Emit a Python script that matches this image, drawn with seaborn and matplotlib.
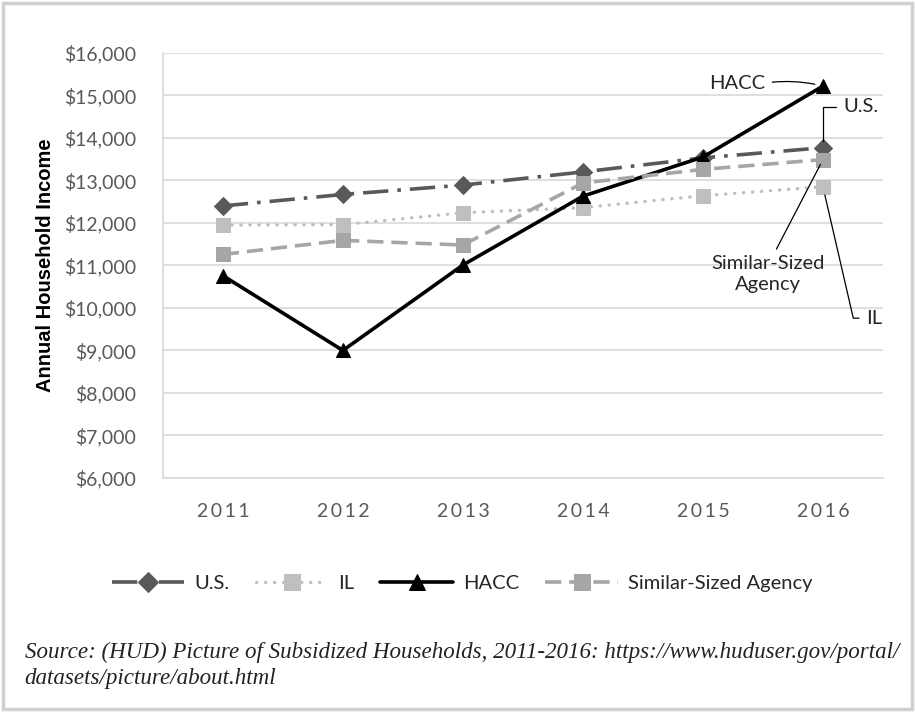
import pandas as pd
import matplotlib.pyplot as plt
from matplotlib.patches import Rectangle
from matplotlib.ticker import FuncFormatter
import seaborn as sns

years = ['2011', '2012', '2013', '2014', '2015', '2016']
us = [12400, 12670, 12890, 13200, 13530, 13770]
il = [11950, 11960, 12240, 12360, 12640, 12850]
hacc = [10760, 9000, 11010, 12630, 13550, 15220]
similar = [11260, 11590, 11480, 12940, 13260, 13490]

series = [
    ('U.S.', us, '#595959', (0, (7, 2.5, 1, 2.5)), 'D', 9),
    ('IL', il, '#bfbfbf', (0, (0.1, 2.6)), 's', 10),
    ('HACC', hacc, 'black', '-', '^', 10),
    ('Similar-Sized Agency', similar, '#a6a6a6', (0, (4.5, 2.2)), 's', 10),
]

sns.set_theme(style='white')
plt.rcParams['font.family'] = ['Lato', 'DejaVu Sans']

fig = plt.figure(figsize=(9.15, 7.12), dpi=100)
ax = fig.add_axes([0.178, 0.3287, 0.787, 0.597])

for name, vals, col, ls, mk, ms in series:
    df = pd.DataFrame({'year': years, 'value': vals})
    sns.lineplot(data=df, x='year', y='value', ax=ax, color=col, linestyle=ls,
                 linewidth=2.6 if name != 'IL' else 2.4, marker=mk, markersize=ms,
                 markeredgecolor=col, markerfacecolor=col, label=name,
                 dash_capstyle='round' if name == 'IL' else 'butt')

ax.set_xlim(-0.5, 5.5)
ax.set_ylim(6000, 16000)
ax.set_yticks(range(6000, 16001, 1000))
ax.yaxis.set_major_formatter(FuncFormatter(lambda v, p: f'${v:,.0f}'))
# the year labels are letter-spaced in the original
ax.set_xticks(range(len(years)))
ax.set_xticklabels(['\u2009'.join(y) for y in years])
ax.grid(axis='y', color='#d9d9d9', linewidth=1.2)
ax.set_axisbelow(True)
for s in ['top', 'right']:
    ax.spines[s].set_visible(False)
for s in ['left', 'bottom']:
    ax.spines[s].set_color('#d9d9d9')
    ax.spines[s].set_linewidth(1.2)
ax.tick_params(axis='y', length=0, pad=19, labelsize=14, labelcolor='#595959')
ax.tick_params(axis='x', length=0, pad=18, labelsize=14, labelcolor='#595959')
ax.set_xlabel('')
ax.set_ylabel('Annual Household Income', fontsize=14.5, fontweight='bold',
              family=['Liberation Sans', 'DejaVu Sans'], color='black', labelpad=7)

# callout labels at the 2016 points
ax.annotate('HACC', xy=(5, hacc[5]), xytext=(0.797, 0.929), textcoords='axes fraction',
            ha='center', va='center', fontsize=14.5,
            arrowprops=dict(arrowstyle='-', color='black', lw=0.9, relpos=(1, 0.5),
                            shrinkA=3, shrinkB=6, connectionstyle='arc3,rad=-0.1'))
ax.annotate('U.S.', xy=(5, us[5]), xytext=(0.945, 0.873), textcoords='axes fraction',
            ha='left', va='center', fontsize=14.5,
            arrowprops=dict(arrowstyle='-', color='black', lw=0.9, relpos=(0, 0.5),
                            shrinkA=3, shrinkB=5,
                            connectionstyle='angle,angleA=180,angleB=90,rad=0'))
ax.annotate('Similar-Sized\nAgency', xy=(5, similar[5]), xytext=(0.84, 0.48),
            textcoords='axes fraction', ha='center', va='center', fontsize=14.5,
            linespacing=1.3,
            arrowprops=dict(arrowstyle='-', color='black', lw=0.9, relpos=(0.55, 1),
                            shrinkA=2, shrinkB=4))
ax.annotate('IL', xy=(5, il[5]), xytext=(0.977, 0.376), textcoords='axes fraction',
            ha='left', va='center', fontsize=14.5,
            arrowprops=dict(arrowstyle='-', color='black', lw=0.9, relpos=(0, 0.5),
                            shrinkA=3, shrinkB=6,
                            connectionstyle='angle,angleA=180,angleB=103,rad=0'))

ax.legend(loc='center', bbox_to_anchor=(0.505, 0.181), bbox_transform=fig.transFigure,
          ncol=4, frameon=False, fontsize=14.5, handlelength=3.6, handletextpad=0.5,
          columnspacing=1.3, markerscale=1.15)

fig.text(0.027, 0.066,
         'Source: (HUD) Picture of Subsidized Households, 2011-2016: https://www.huduser.gov/portal/\n'
         'datasets/picture/about.html',
         family=['Liberation Serif', 'DejaVu Serif'], style='italic', fontsize=16.6,
         ha='left', va='center', linespacing=1.3, color='#222222')

fig.patches.append(Rectangle((0.003, 0.004), 0.994, 0.992, transform=fig.transFigure,
                             fill=False, edgecolor='#d0d0d0', linewidth=2.5))

fig.savefig('out.png', dpi=100)
